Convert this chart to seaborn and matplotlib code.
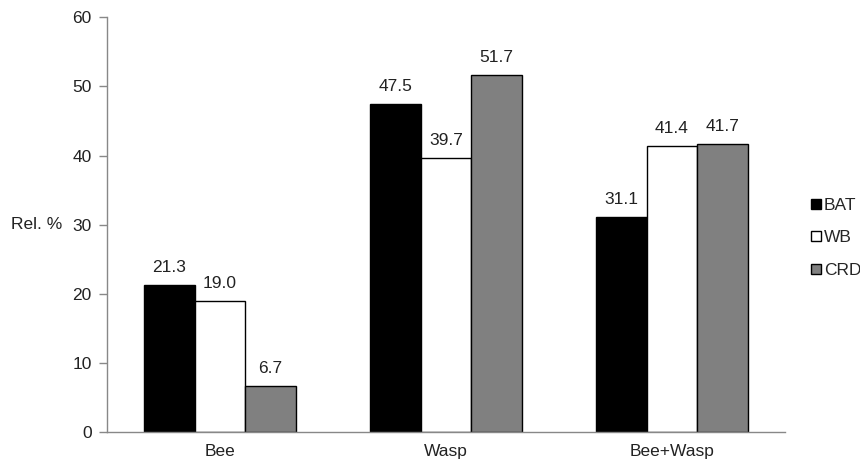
import matplotlib
matplotlib.use("Agg")
import matplotlib.pyplot as plt
from matplotlib.lines import Line2D
import seaborn as sns
import pandas as pd

categories = ["Bee", "Wasp", "Bee+Wasp"]
series = ["BAT", "WB", "CRD"]
bat = [21.3, 47.5, 31.1]
wb = [19.0, 39.7, 41.4]
crd = [6.7, 51.7, 41.7]
colors = ["#000000", "#ffffff", "#808080"]

df = pd.DataFrame({
    "category": categories * 3,
    "series": [s for s in series for _ in categories],
    "value": bat + wb + crd,
})

sns.set_style("white")
plt.rcParams["font.family"] = ["Liberation Sans", "DejaVu Sans"]

FS = 12.5
TXT = "#222222"

fig = plt.figure(figsize=(8.6, 4.63), dpi=100)
ax = fig.add_axes([0.1244, 0.067, 0.7884, 0.8956])

sns.barplot(data=df, x="category", y="value", hue="series", order=categories,
            hue_order=series, palette=colors, width=0.67, edgecolor="black",
            linewidth=1.0, saturation=1, ax=ax, legend=False)

for cont in ax.containers:
    ax.bar_label(cont, fmt="%.1f", padding=7, fontsize=FS, color=TXT)

ax.set_ylim(0, 60)
ax.set_yticks(range(0, 61, 10))
ax.set_xlim(-0.5, 2.5)
ax.set_xticks([0, 1, 2])
ax.set_xticklabels(categories)
ax.set_xticks([-0.5, 0.5, 1.5, 2.5], minor=True)
ax.tick_params(axis="x", which="major", length=0, pad=9, labelsize=FS, labelcolor=TXT)
ax.tick_params(axis="x", which="minor", length=6, width=1, color="#888888", direction="out")
ax.tick_params(axis="y", length=6, width=1, color="#888888", direction="out", labelsize=FS,
               labelcolor=TXT, pad=5, left=True)
ax.set_xlabel("")
ax.set_ylabel("Rel. %", rotation=0, fontsize=FS, color=TXT, ha="right", va="center")
ax.yaxis.set_label_coords(-0.066, 0.5)

for side in ["top", "right"]:
    ax.spines[side].set_visible(False)
for side in ["left", "bottom"]:
    ax.spines[side].set_color("#888888")
    ax.spines[side].set_linewidth(1)

handles = [Line2D([0], [0], marker="s", linestyle="none", markersize=7,
                  markerfacecolor=c, markeredgecolor="black", markeredgewidth=1)
           for c in colors]
fig.legend(handles, series, loc="center left", bbox_to_anchor=(0.943, 0.487),
           frameon=False, fontsize=FS, handlelength=0.6, handletextpad=0.15,
           labelspacing=1.0, borderpad=0, borderaxespad=0)

fig.savefig("out.png", dpi=100)
